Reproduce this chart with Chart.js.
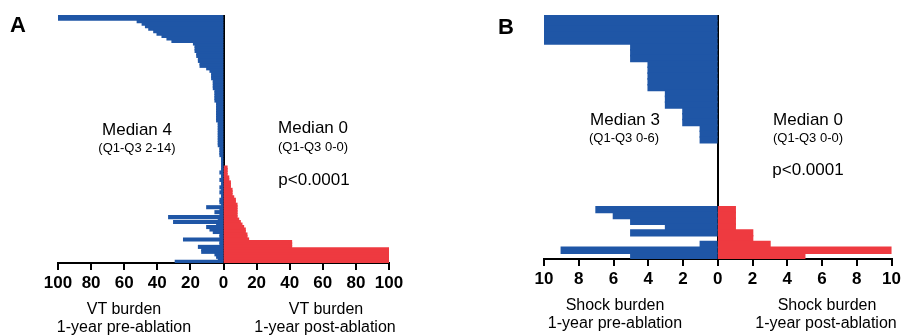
<!DOCTYPE html>
<html>
<head>
<meta charset="utf-8">
<script src="https://cdn.jsdelivr.net/npm/chart.js@4.4.1/dist/chart.umd.min.js"></script>
<style>
  body { margin: 0; background: #fff; }
  #wrap { position: relative; width: 904px; height: 336px; overflow: hidden;
          font-family: 'Liberation Sans', Arial, sans-serif; color: #000; }
  canvas { position: absolute; top: 0; }
  .t { position: absolute; white-space: nowrap; line-height: 1; transform: translate(-50%, -50%); }
  .big { font-size: 17px; }
  .small { font-size: 13px; }
  .axt { font-size: 16px; }
  .panel { font-size: 22px; font-weight: bold; }
</style>
</head>
<body>
<div id="wrap">
  <canvas id="chartA" width="440" height="336" style="left:0px"></canvas>
  <canvas id="chartB" width="424" height="336" style="left:480px"></canvas>

  <div class="t panel" style="left:18px; top:25px">A</div>
  <div class="t big" style="left:137px; top:129px">Median 4</div>
  <div class="t small" style="left:137px; top:147px">(Q1-Q3 2-14)</div>
  <div class="t big" style="left:313px; top:127px">Median 0</div>
  <div class="t small" style="left:313px; top:146px">(Q1-Q3 0-0)</div>
  <div class="t big" style="left:314px; top:179px">p&lt;0.0001</div>
  <div class="t axt" style="left:124px; top:309px">VT burden</div>
  <div class="t axt" style="left:124px; top:327px">1-year pre-ablation</div>
  <div class="t axt" style="left:326px; top:309px">VT burden</div>
  <div class="t axt" style="left:325px; top:327px">1-year post-ablation</div>

  <div class="t panel" style="left:506px; top:27px">B</div>
  <div class="t big" style="left:625px; top:119px">Median 3</div>
  <div class="t small" style="left:624px; top:137px">(Q1-Q3 0-6)</div>
  <div class="t big" style="left:808px; top:119px">Median 0</div>
  <div class="t small" style="left:808px; top:137px">(Q1-Q3 0-0)</div>
  <div class="t big" style="left:808px; top:169px">p&lt;0.0001</div>
  <div class="t axt" style="left:615px; top:305px">Shock burden</div>
  <div class="t axt" style="left:615px; top:323px">1-year pre-ablation</div>
  <div class="t axt" style="left:827px; top:305px">Shock burden</div>
  <div class="t axt" style="left:826px; top:323px">1-year post-ablation</div>
</div>

<script>
// Panel A: VT burden per patient, one row per patient (top to bottom)
const vtPre = [
  100, 100, 52, 49, 47, 45, 42, 40, 37, 34, 31,
  18, 17, 17, 17, 16, 16, 15, 15, 14, 14,
  10, 8, 7, 7, 7, 6, 6, 6, 6, 5, 5, 5, 5, 5,
  4, 4, 4, 4, 4, 4, 4, 4,
  3, 3, 3, 3, 3, 3, 3, 3, 3, 3,
  2, 2, 2, 2, 1, 1, 1, 1,
  1, 1, 2, 1, 1, 2, 1, 1, 2, 1, 2, 1, 1, 2, 2, 1,
  10, 2, 5, 2, 33, 3, 30, 4, 10, 8, 6, 2, 2, 24, 2, 2,
  15, 13, 13, 5, 4, 3, 29
];
const vtPost = [
  0, 0, 0, 0, 0, 0, 0, 0, 0, 0, 0,
  0, 0, 0, 0, 0, 0, 0, 0, 0, 0,
  0, 0, 0, 0, 0, 0, 0, 0, 0, 0, 0, 0, 0, 0,
  0, 0, 0, 0, 0, 0, 0, 0,
  0, 0, 0, 0, 0, 0, 0, 0, 0, 0,
  0, 0, 0, 0, 0, 0, 0, 0,
  2, 2, 2, 2, 3, 3, 4, 4, 4, 5, 5, 5, 6, 7, 7, 8,
  8, 8, 8, 8, 8, 9, 10, 11, 12, 13, 13, 14, 14, 15, 41, 41,
  41, 100, 100, 100, 100, 100, 100
];
const vtTicks = [-100, -80, -60, -40, -20, 0, 20, 40, 60, 80, 100];

// Panel B: shock burden per patient
const shockPre = [
  10, 10, 10, 10, 10,
  5, 5, 5,
  4, 4, 4, 4, 4,
  3, 3, 3,
  2, 2, 2,
  1, 1, 1,
  0, 0, 0, 0, 0, 0, 0, 0, 0, 0, 0,
  7, 6, 5, 3, 5, 0, 1, 9, 5
];
const shockPost = [
  0, 0, 0, 0, 0,
  0, 0, 0,
  0, 0, 0, 0, 0,
  0, 0, 0,
  0, 0, 0,
  0, 0, 0,
  0, 0, 0, 0, 0, 0, 0, 0, 0, 0, 0,
  1, 1, 1, 1, 2, 2, 3, 10, 5
];
const shockTicks = [-10, -8, -6, -4, -2, 0, 2, 4, 6, 8, 10];

const BLUE = '#1f56a6';
const RED = '#ee3a40';

Chart.defaults.font.family = "'Liberation Sans', Arial, sans-serif";
Chart.defaults.color = '#000';

function makeChart(id, pre, post, ticks, pad, axisHeight) {
  const labels = pre.map((_, i) => 'Patient ' + (i + 1));
  const lim = ticks[ticks.length - 1];
  return new Chart(document.getElementById(id), {
    type: 'bar',
    data: {
      labels: labels,
      datasets: [
        {
          label: 'Pre-ablation',
          data: pre.map(v => (v ? -v : null)),
          backgroundColor: BLUE,
          borderWidth: 0,
          inflateAmount: 0.8,
          barPercentage: 1,
          categoryPercentage: 1
        },
        {
          label: 'Post-ablation',
          data: post.map(v => (v ? v : null)),
          backgroundColor: RED,
          borderWidth: 0,
          inflateAmount: 0.8,
          barPercentage: 1,
          categoryPercentage: 1
        }
      ]
    },
    options: {
      indexAxis: 'y',
      responsive: false,
      animation: false,
      layout: { padding: pad },
      plugins: {
        legend: { display: false },
        tooltip: { enabled: false }
      },
      scales: {
        x: {
          type: 'linear',
          stacked: true,
          min: -lim,
          max: lim,
          z: 1,
          afterBuildTicks: (scale) => {
            scale.ticks = ticks.map(v => ({ value: v }));
          },
          afterFit: (scale) => {
            scale.height = axisHeight;
          },
          border: { display: true, color: '#000', width: 2 },
          grid: {
            drawOnChartArea: true,
            color: (ctx) => (ctx.tick && ctx.tick.value === 0 ? '#000' : 'rgba(0,0,0,0)'),
            lineWidth: 2,
            tickColor: '#000',
            tickWidth: 2,
            tickLength: 7
          },
          ticks: {
            autoSkip: false,
            maxRotation: 0,
            padding: 3,
            font: { size: 17, weight: 'bold' },
            color: '#000',
            callback: (value) => Math.abs(value)
          }
        },
        y: {
          stacked: true,
          display: false
        }
      }
    }
  });
}

makeChart('chartA', vtPre, vtPost, vtTicks,
  { left: 58, right: 51, top: 15, bottom: 0 }, 73);
makeChart('chartB', shockPre, shockPost, shockTicks,
  { left: 64, right: 12, top: 15, bottom: 0 }, 77);
</script>
</body>
</html>
